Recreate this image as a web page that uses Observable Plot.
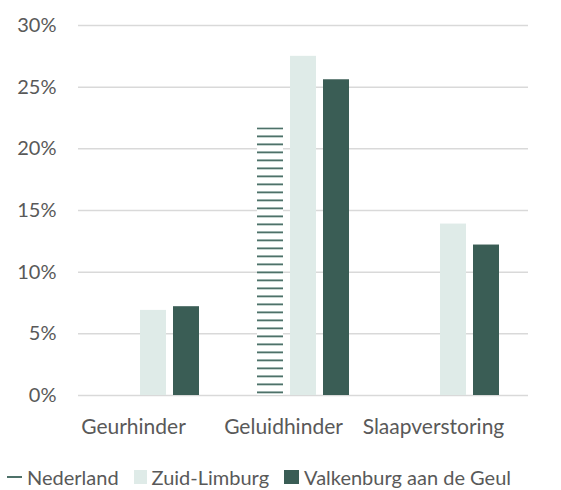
<!DOCTYPE html>
<html><head><meta charset="utf-8">
<script src="https://cdn.jsdelivr.net/npm/d3@7"></script>
<script src="https://cdn.jsdelivr.net/npm/@observablehq/plot@0.6"></script>
<style>
body{margin:0;background:#fff;font-family:Lato,sans-serif;color:#595959;}
#chart svg{display:block;}
#legend{display:flex;align-items:center;font-size:20px;line-height:24px;margin-top:15px;padding-left:7px;white-space:nowrap;}
#legend .sw{display:inline-block;margin-right:5px;}
#legend .lbl{margin-right:15px;}
</style></head><body><div id="chart"></div><div id="legend"></div>
<script>
const categories = ["Geurhinder", "Geluidhinder", "Slaapverstoring"];
const series = ["Nederland", "Zuid-Limburg", "Valkenburg aan de Geul"];
const nederland = [null, 0.217, null];
const zuidLimburg = [0.069, 0.275, 0.139];
const valkenburg = [0.072, 0.256, 0.122];
const yTicks = [0, 0.05, 0.10, 0.15, 0.20, 0.25, 0.30];
const colors = ["url(#nl-hatch)", "#dfebe8", "#3a5d55"];

const valuesBySeries = [nederland, zuidLimburg, valkenburg];
const rows = [];
categories.forEach((c, i) => {
  series.forEach((s, j) => {
    const v = valuesBySeries[j][i];
    if (v != null) rows.push({category: c, series: s, value: v});
  });
});

const chart = Plot.plot({
  width: 561, height: 450,
  marginTop: 25, marginBottom: 55, marginLeft: 77, marginRight: 32,
  style: {fontFamily: "Lato, sans-serif", fontSize: "20px", color: "#595959", background: "#fff"},
  fx: {domain: categories, padding: 0, axis: null, label: null},
  x: {domain: series, paddingInner: 0.21, paddingOuter: 0.854, axis: null},
  y: {domain: [0, 0.3], ticks: yTicks, tickFormat: d => Math.round(d * 100) + "%", tickSize: 0, tickPadding: 22, label: null},
  color: {domain: series, range: colors},
  marks: [
    Plot.ruleY(yTicks, {stroke: "#d9d9d9", strokeWidth: 1.5}),
    Plot.barY(rows, {fx: "category", x: "series", y: "value", fill: "series"}),
    Plot.text(categories, {fx: d => d, text: d => d, frameAnchor: "bottom", dy: 32, dx: -20,
      lineAnchor: "middle", fill: "#595959", fontSize: 21})
  ]
});

const defs = d3.select(chart).insert("defs", ":first-child");
const p = defs.append("pattern").attr("id", "nl-hatch").attr("patternUnits", "userSpaceOnUse")
  .attr("width", 8).attr("height", 8).attr("y", 7);
p.append("rect").attr("width", 8).attr("height", 8).attr("fill", "#fff");
p.append("rect").attr("y", 0).attr("width", 8).attr("height", 1).attr("fill", "#9bb2ad");
p.append("rect").attr("y", 1).attr("width", 8).attr("height", 1).attr("fill", "#4e7169");
p.append("rect").attr("y", 2).attr("width", 8).attr("height", 1).attr("fill", "#c6d5d1");

document.getElementById("chart").appendChild(chart);

const legend = d3.select("#legend");
const swatchStyles = [
  {w: 15, h: 2, bg: "#4e7169"},
  {w: 13, h: 14, bg: "#dfebe8"},
  {w: 15, h: 14, bg: "#3a5d55"}
];
series.forEach((s, i) => {
  const st = swatchStyles[i];
  legend.append("span").attr("class", "sw")
    .style("width", st.w + "px").style("height", st.h + "px").style("background", st.bg);
  legend.append("span").attr("class", "lbl").text(s);
});
</script>
</body></html>
